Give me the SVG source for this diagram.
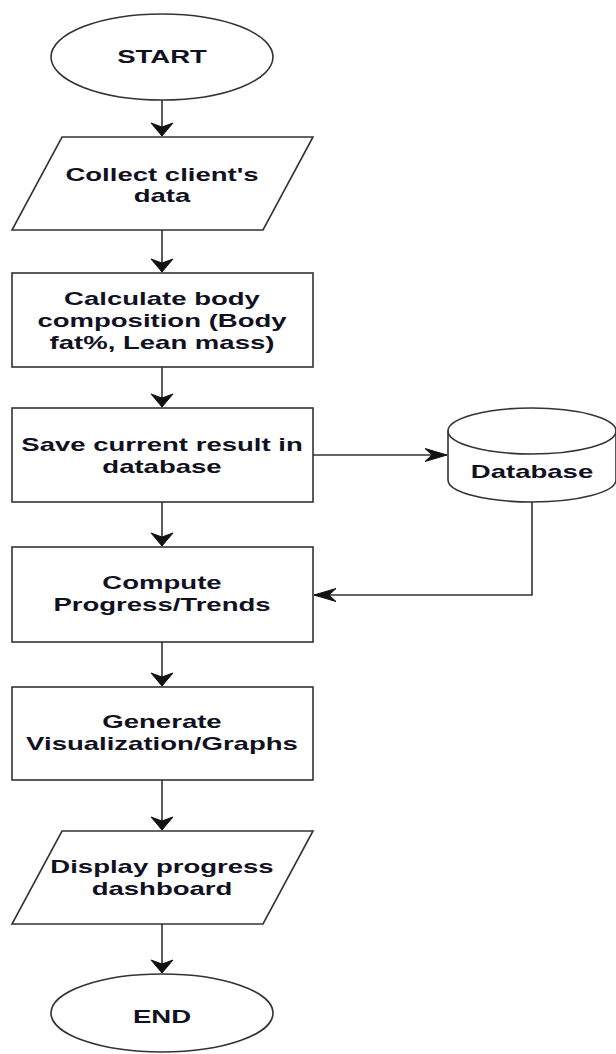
<svg xmlns="http://www.w3.org/2000/svg" width="616" height="1054" viewBox="0 0 616 1054">
  <style>
    .shape { fill: #ffffff; stroke: #333333; stroke-width: 1.6; }
    .edge { fill: none; stroke: #333333; stroke-width: 1.6; }
    .label { font-family: "Liberation Sans", Arial, sans-serif; font-weight: bold; font-size: 18px; fill: #111122; text-anchor: middle; }
  </style>
  <defs>
    <!-- arrowhead for vertical flow lines (wide, short) -->
    <marker id="arrowV" markerUnits="userSpaceOnUse" markerWidth="26" markerHeight="26" viewBox="-14 -13 16 26" refX="0" refY="0" orient="auto">
      <path d="M0,0 L-13,-11 L-9,0 L-13,11 Z" fill="#111111" stroke="#111111" stroke-width="1"/>
    </marker>
    <!-- arrowhead for horizontal flow lines (long, narrow) -->
    <marker id="arrowH" markerUnits="userSpaceOnUse" markerWidth="26" markerHeight="26" viewBox="-24 -13 26 26" refX="0" refY="0" orient="auto">
      <path d="M0,0 L-22,-6.5 L-15,0 L-22,6.5 Z" fill="#111111" stroke="#111111" stroke-width="1"/>
    </marker>
  </defs>

  <!-- connectors -->
  <g id="connectors">
    <path class="edge" d="M162,100 L162,136" marker-end="url(#arrowV)"/>
    <path class="edge" d="M162,230 L162,272" marker-end="url(#arrowV)"/>
    <path class="edge" d="M162,367 L162,407" marker-end="url(#arrowV)"/>
    <path class="edge" d="M162,502 L162,546" marker-end="url(#arrowV)"/>
    <path class="edge" d="M162,642 L162,686" marker-end="url(#arrowV)"/>
    <path class="edge" d="M162,780 L162,830" marker-end="url(#arrowV)"/>
    <path class="edge" d="M162,924 L162,973" marker-end="url(#arrowV)"/>
    <path class="edge" d="M313,455 L447,455" marker-end="url(#arrowH)"/>
    <path class="edge" d="M532,502 L532,595 L314,595" marker-end="url(#arrowH)"/>
  </g>

  <!-- start terminator -->
  <g id="start">
    <ellipse class="shape" cx="162" cy="57" rx="111" ry="43"/>
    <g transform="translate(162 0) scale(1.53 1)"><text class="label" x="0" y="63">START</text></g>
  </g>

  <!-- input: client data -->
  <g id="collect">
    <polygon class="shape" points="62,137 313,137 263,230 12,230"/>
    <g transform="translate(162 0) scale(1.53 1)">
      <text class="label" x="0" y="181">Collect client's</text>
      <text class="label" x="0" y="202">data</text>
    </g>
  </g>

  <!-- body composition -->
  <g id="calculate">
    <rect class="shape" x="12" y="273" width="301" height="94"/>
    <g transform="translate(162 0) scale(1.53 1)">
      <text class="label" x="0" y="305">Calculate body</text>
      <text class="label" x="0" y="327">composition (Body</text>
      <text class="label" x="0" y="349">fat%, Lean mass)</text>
    </g>
  </g>

  <!-- persist result -->
  <g id="save">
    <rect class="shape" x="12" y="408" width="301" height="94"/>
    <g transform="translate(162 0) scale(1.53 1)">
      <text class="label" x="0" y="451">Save current result in</text>
      <text class="label" x="0" y="473">database</text>
    </g>
  </g>

  <!-- database store -->
  <g id="database">
    <path class="shape" d="M448,431 A84,23 0 0 1 616,431 L616,480 A84,22 0 0 1 448,480 Z"/>
    <path class="edge" d="M448,431 A84,23 0 0 0 616,431"/>
    <g transform="translate(532 0) scale(1.53 1)"><text class="label" x="0" y="478">Database</text></g>
  </g>

  <!-- trends -->
  <g id="compute">
    <rect class="shape" x="12" y="547" width="301" height="95"/>
    <g transform="translate(162 0) scale(1.53 1)">
      <text class="label" x="0" y="589">Compute</text>
      <text class="label" x="0" y="611">Progress/Trends</text>
    </g>
  </g>

  <!-- charts -->
  <g id="generate">
    <rect class="shape" x="12" y="687" width="301" height="93"/>
    <g transform="translate(162 0) scale(1.53 1)">
      <text class="label" x="0" y="728">Generate</text>
      <text class="label" x="0" y="750">Visualization/Graphs</text>
    </g>
  </g>

  <!-- output: dashboard -->
  <g id="display">
    <polygon class="shape" points="62,831 313,831 263,924 12,924"/>
    <g transform="translate(162 0) scale(1.53 1)">
      <text class="label" x="0" y="873">Display progress</text>
      <text class="label" x="0" y="895">dashboard</text>
    </g>
  </g>

  <!-- end terminator -->
  <g id="end">
    <ellipse class="shape" cx="162" cy="1013" rx="111" ry="39"/>
    <g transform="translate(162 0) scale(1.53 1)"><text class="label" x="0" y="1023">END</text></g>
  </g>
</svg>
